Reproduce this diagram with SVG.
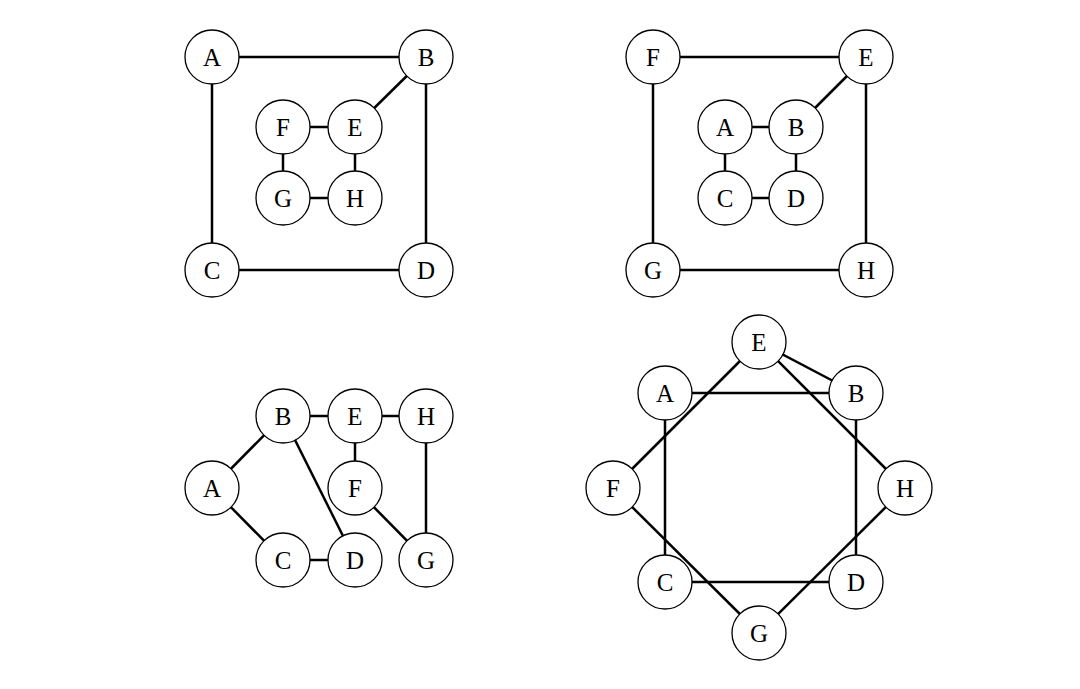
<svg xmlns="http://www.w3.org/2000/svg" width="1080" height="689" viewBox="0 0 1080 689">
<style>
.e{stroke:#000;stroke-width:2.5;fill:none}
.n circle{fill:#fff;stroke:#000;stroke-width:1.3}
.n text{font-family:"Liberation Serif","DejaVu Serif",serif;font-size:25px;text-anchor:middle;dominant-baseline:central;fill:#000}
</style>
<rect width="1080" height="689" fill="#fff"/>
<g id="connectors">
<g id="g1-edges">
<line class="e" x1="212" y1="57" x2="426" y2="57"/>
<line class="e" x1="212" y1="57" x2="212" y2="270"/>
<line class="e" x1="426" y1="57" x2="426" y2="270"/>
<line class="e" x1="212" y1="270" x2="426" y2="270"/>
<line class="e" x1="426" y1="57" x2="355" y2="127"/>
<line class="e" x1="283" y1="127" x2="355" y2="127"/>
<line class="e" x1="283" y1="127" x2="283" y2="198"/>
<line class="e" x1="355" y1="127" x2="355" y2="198"/>
<line class="e" x1="283" y1="198" x2="355" y2="198"/>
</g>
<g id="g2-edges">
<line class="e" x1="653" y1="57" x2="866" y2="57"/>
<line class="e" x1="653" y1="57" x2="653" y2="270"/>
<line class="e" x1="866" y1="57" x2="866" y2="270"/>
<line class="e" x1="653" y1="270" x2="866" y2="270"/>
<line class="e" x1="866" y1="57" x2="796" y2="127"/>
<line class="e" x1="725" y1="127" x2="796" y2="127"/>
<line class="e" x1="725" y1="127" x2="725" y2="198"/>
<line class="e" x1="796" y1="127" x2="796" y2="198"/>
<line class="e" x1="725" y1="198" x2="796" y2="198"/>
</g>
<g id="g3-edges">
<line class="e" x1="283" y1="416" x2="355" y2="416"/>
<line class="e" x1="355" y1="416" x2="426" y2="416"/>
<line class="e" x1="355" y1="416" x2="355" y2="488"/>
<line class="e" x1="212" y1="488" x2="283" y2="416"/>
<line class="e" x1="212" y1="488" x2="283" y2="560"/>
<line class="e" x1="283" y1="560" x2="355" y2="560"/>
<line class="e" x1="283" y1="416" x2="355" y2="560"/>
<line class="e" x1="355" y1="488" x2="426" y2="560"/>
<line class="e" x1="426" y1="416" x2="426" y2="560"/>
</g>
<g id="g4-edges">
<line class="e" x1="759" y1="342" x2="856" y2="393"/>
<line class="e" x1="759" y1="342" x2="905" y2="488"/>
<line class="e" x1="759" y1="342" x2="613" y2="488"/>
<line class="e" x1="613" y1="488" x2="759" y2="633"/>
<line class="e" x1="905" y1="488" x2="759" y2="633"/>
<line class="e" x1="665" y1="393" x2="856" y2="393"/>
<line class="e" x1="665" y1="393" x2="665" y2="582"/>
<line class="e" x1="856" y1="393" x2="856" y2="582"/>
<line class="e" x1="665" y1="582" x2="856" y2="582"/>
</g>
</g>
<g id="g1-A" class="n"><circle cx="212" cy="57" r="27"/><text x="212" y="57">A</text></g>
<g id="g1-B" class="n"><circle cx="426" cy="57" r="27"/><text x="426" y="57">B</text></g>
<g id="g1-C" class="n"><circle cx="212" cy="270" r="27"/><text x="212" y="270">C</text></g>
<g id="g1-D" class="n"><circle cx="426" cy="270" r="27"/><text x="426" y="270">D</text></g>
<g id="g1-F" class="n"><circle cx="283" cy="127" r="27"/><text x="283" y="127">F</text></g>
<g id="g1-E" class="n"><circle cx="355" cy="127" r="27"/><text x="355" y="127">E</text></g>
<g id="g1-G" class="n"><circle cx="283" cy="198" r="27"/><text x="283" y="198">G</text></g>
<g id="g1-H" class="n"><circle cx="355" cy="198" r="27"/><text x="355" y="198">H</text></g>

<g id="g2-F" class="n"><circle cx="653" cy="57" r="27"/><text x="653" y="57">F</text></g>
<g id="g2-E" class="n"><circle cx="866" cy="57" r="27"/><text x="866" y="57">E</text></g>
<g id="g2-G" class="n"><circle cx="653" cy="270" r="27"/><text x="653" y="270">G</text></g>
<g id="g2-H" class="n"><circle cx="866" cy="270" r="27"/><text x="866" y="270">H</text></g>
<g id="g2-A" class="n"><circle cx="725" cy="127" r="27"/><text x="725" y="127">A</text></g>
<g id="g2-B" class="n"><circle cx="796" cy="127" r="27"/><text x="796" y="127">B</text></g>
<g id="g2-C" class="n"><circle cx="725" cy="198" r="27"/><text x="725" y="198">C</text></g>
<g id="g2-D" class="n"><circle cx="796" cy="198" r="27"/><text x="796" y="198">D</text></g>

<g id="g3-B" class="n"><circle cx="283" cy="416" r="27"/><text x="283" y="416">B</text></g>
<g id="g3-E" class="n"><circle cx="355" cy="416" r="27"/><text x="355" y="416">E</text></g>
<g id="g3-H" class="n"><circle cx="426" cy="416" r="27"/><text x="426" y="416">H</text></g>
<g id="g3-A" class="n"><circle cx="212" cy="488" r="27"/><text x="212" y="488">A</text></g>
<g id="g3-F" class="n"><circle cx="355" cy="488" r="27"/><text x="355" y="488">F</text></g>
<g id="g3-C" class="n"><circle cx="283" cy="560" r="27"/><text x="283" y="560">C</text></g>
<g id="g3-D" class="n"><circle cx="355" cy="560" r="27"/><text x="355" y="560">D</text></g>
<g id="g3-G" class="n"><circle cx="426" cy="560" r="27"/><text x="426" y="560">G</text></g>

<g id="g4-E" class="n"><circle cx="759" cy="342" r="27"/><text x="759" y="342">E</text></g>
<g id="g4-A" class="n"><circle cx="665" cy="393" r="27"/><text x="665" y="393">A</text></g>
<g id="g4-B" class="n"><circle cx="856" cy="393" r="27"/><text x="856" y="393">B</text></g>
<g id="g4-F" class="n"><circle cx="613" cy="488" r="27"/><text x="613" y="488">F</text></g>
<g id="g4-H" class="n"><circle cx="905" cy="488" r="27"/><text x="905" y="488">H</text></g>
<g id="g4-C" class="n"><circle cx="665" cy="582" r="27"/><text x="665" y="582">C</text></g>
<g id="g4-D" class="n"><circle cx="856" cy="582" r="27"/><text x="856" y="582">D</text></g>
<g id="g4-G" class="n"><circle cx="759" cy="633" r="27"/><text x="759" y="633">G</text></g>
</svg>
